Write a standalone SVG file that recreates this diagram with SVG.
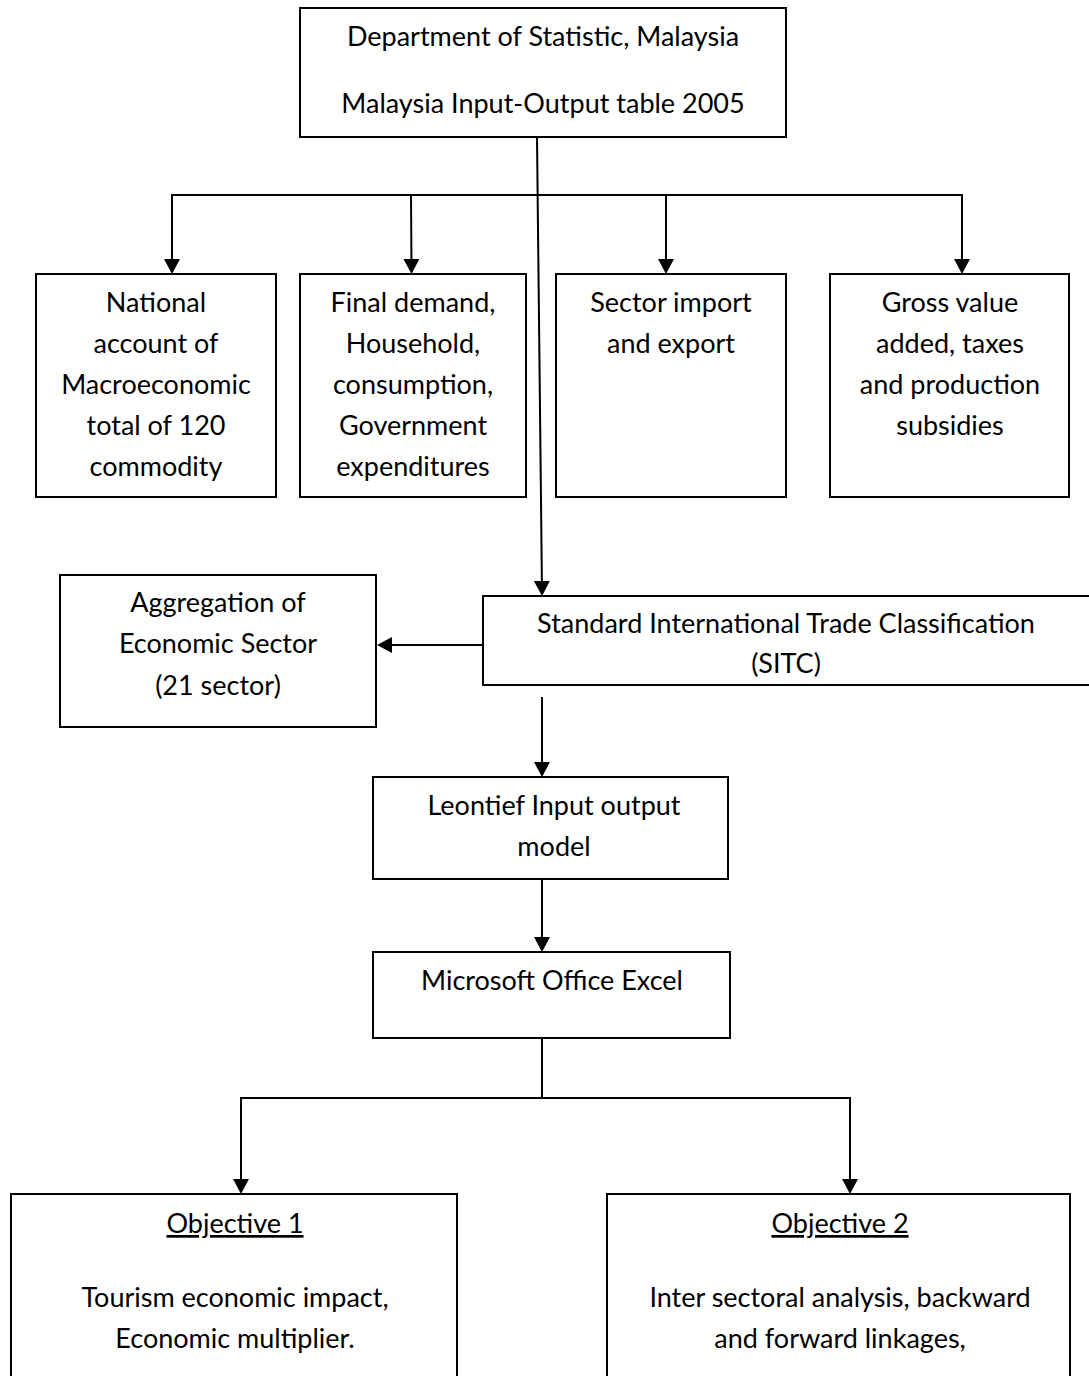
<svg xmlns="http://www.w3.org/2000/svg" width="1089" height="1376" viewBox="0 0 1089 1376">
<style>
.box{fill:#fff;stroke:#000;stroke-width:2}
.t{font-family:Lato,"Liberation Sans",sans-serif;font-size:27px;fill:#000;text-anchor:middle}
.c{fill:none;stroke:#000;stroke-width:2}
.u{text-decoration:underline}
</style>
<defs>
<marker id="ah" markerUnits="userSpaceOnUse" markerWidth="17" markerHeight="17" refX="11" refY="8" orient="auto" viewBox="0 0 17 17">
<path d="M0,0 L15,8 L0,16 z" fill="#000"/>
</marker>
</defs>
<rect width="1089" height="1376" fill="#fff"/>
<g id="connectors">
<line class="c" x1="537" y1="137" x2="542" y2="592" marker-end="url(#ah)"/>
<line class="c" x1="171" y1="195" x2="963" y2="195"/>
<line class="c" x1="172" y1="195" x2="172" y2="270" marker-end="url(#ah)"/>
<line class="c" x1="411" y1="195" x2="411.5" y2="270" marker-end="url(#ah)"/>
<line class="c" x1="666" y1="195" x2="666" y2="270" marker-end="url(#ah)"/>
<line class="c" x1="962" y1="195" x2="962" y2="270" marker-end="url(#ah)"/>
<line class="c" x1="483" y1="645" x2="381" y2="645" marker-end="url(#ah)"/>
<line class="c" x1="542" y1="697" x2="542" y2="773" marker-end="url(#ah)"/>
<line class="c" x1="542" y1="879" x2="542" y2="948" marker-end="url(#ah)"/>
<line class="c" x1="542" y1="1038" x2="542" y2="1098"/>
<line class="c" x1="240" y1="1098" x2="851" y2="1098"/>
<line class="c" x1="241" y1="1098" x2="241" y2="1190" marker-end="url(#ah)"/>
<line class="c" x1="850" y1="1098" x2="850" y2="1190" marker-end="url(#ah)"/>
</g>
<g id="n-top">
<rect class="box" x="300" y="8" width="486" height="129"/>
<text class="t" x="543" y="46">Department of Statistic, Malaysia</text>
<text class="t" x="543" y="113">Malaysia Input-Output table 2005</text>
</g>
<g id="n-national">
<rect class="box" x="36" y="274" width="240" height="223"/>
<text class="t" x="156" y="312">National</text>
<text class="t" x="156" y="353">account of</text>
<text class="t" x="156" y="394">Macroeconomic</text>
<text class="t" x="156" y="435">total of 120</text>
<text class="t" x="156" y="476">commodity</text>
</g>
<g id="n-final">
<rect class="box" x="300" y="274" width="226" height="223"/>
<text class="t" x="413" y="312">Final demand,</text>
<text class="t" x="413" y="353">Household,</text>
<text class="t" x="413" y="394">consumption,</text>
<text class="t" x="413" y="435">Government</text>
<text class="t" x="413" y="476">expenditures</text>
</g>
<g id="n-sector">
<rect class="box" x="556" y="274" width="230" height="223"/>
<text class="t" x="671" y="312">Sector import</text>
<text class="t" x="671" y="353">and export</text>
</g>
<g id="n-gross">
<rect class="box" x="830" y="274" width="239" height="223"/>
<text class="t" x="950" y="312">Gross value</text>
<text class="t" x="950" y="353">added, taxes</text>
<text class="t" x="950" y="394">and production</text>
<text class="t" x="950" y="435">subsidies</text>
</g>
<g id="n-aggregation">
<rect class="box" x="60" y="575" width="316" height="152"/>
<text class="t" x="218" y="612">Aggregation of</text>
<text class="t" x="218" y="653">Economic Sector</text>
<text class="t" x="218" y="695">(21 sector)</text>
</g>
<g id="n-sitc">
<rect class="box" x="483" y="596" width="620" height="89"/>
<text class="t" x="786" y="633">Standard International Trade Classification</text>
<text class="t" x="786" y="673">(SITC)</text>
</g>
<g id="n-leontief">
<rect class="box" x="373" y="777" width="355" height="102"/>
<text class="t" x="554" y="815">Leontief Input output</text>
<text class="t" x="554" y="856">model</text>
</g>
<g id="n-excel">
<rect class="box" x="373" y="952" width="357" height="86"/>
<text class="t" x="552" y="990">Microsoft Office Excel</text>
</g>
<g id="n-obj1">
<rect class="box" x="11" y="1194" width="446" height="200"/>
<text class="t u" x="235" y="1233">Objective 1</text>
<text class="t" x="235" y="1307">Tourism economic impact,</text>
<text class="t" x="235" y="1348">Economic multiplier.</text>
</g>
<g id="n-obj2">
<rect class="box" x="607" y="1194" width="463" height="200"/>
<text class="t u" x="840" y="1233">Objective 2</text>
<text class="t" x="840" y="1307">Inter sectoral analysis, backward</text>
<text class="t" x="840" y="1348">and forward linkages,</text>
</g>
</svg>
